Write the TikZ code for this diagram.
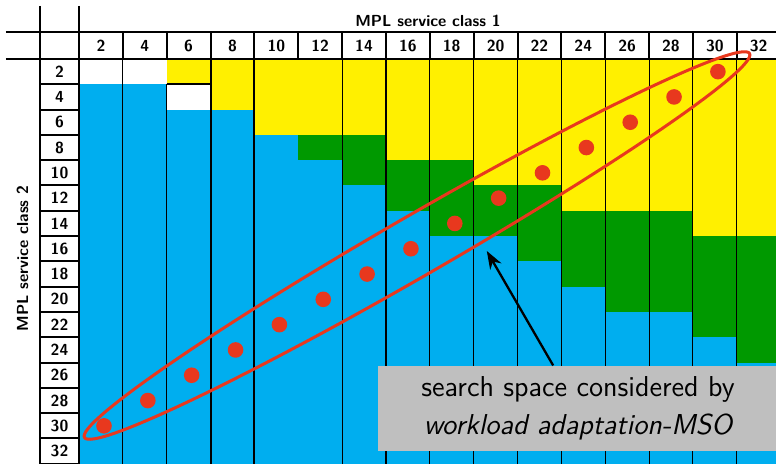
\documentclass[tikz,border=0pt]{standalone}
\usepackage{fontspec}
\usetikzlibrary{arrows.meta}
\definecolor{tabyellow}{RGB}{255,240,0}
\definecolor{tabgreen}{RGB}{0,153,0}
\definecolor{tabblue}{RGB}{0,174,239}
\definecolor{msored}{RGB}{232,56,30}
\definecolor{notegray}{RGB}{191,191,191}

\begin{document}
\begin{tikzpicture}[x=21.925pt, y=-12.65pt,
    heavy/.style={line width=1pt},
    light/.style={line width=0.55pt},
    num/.style={font=\sffamily\bfseries\fontsize{8}{9}\selectfont},
    dot/.style={fill=msored},
    note/.style={fill=notegray, minimum width=200pt, minimum height=42.5pt, inner sep=0pt,
      align=center, font=\sffamily\fontsize{14.4}{19}\selectfont},
    pointer/.style={line width=1.15pt, -{Stealth[length=9pt,width=6.5pt]}}]
    \useasboundingbox (-1.8016,-2.332) rectangle (15.895,16.008);
    \clip (-1.8016,-2.332) rectangle (15.895,16.008);
    % cells: column / end of yellow / start of green / end of green
    \foreach \cl/\ya/\yb/\yc in {1/0/1/1, 2/0/1/1, 3/1/2/2, 4/2/2/2, 5/3/3/3, 6/3/3/4, 7/3/3/5,
        8/4/4/6, 9/4/4/7, 10/5/5/7, 11/5/5/8, 12/6/6/9, 13/6/6/10, 14/6/6/10, 15/7/7/11, 16/7/7/12}{
        \fill[tabyellow] (\cl-1,0) rectangle (\cl,\ya);
        \fill[tabgreen] (\cl-1,\yb) rectangle (\cl,\yc);
        \fill[tabblue] (\cl-1,\yc) rectangle (\cl,16.1);
    }
    % column lines
    \foreach \k in {1,6,8,9,10,11,12,13,14,15}
        \draw[light] (\k,0) -- (\k,16.1);
    \foreach \k in {3,4,7}
        \draw[heavy] (\k,0) -- (\k,16.1);
    \draw[light] (2,1) -- (2,16.1);
    \draw[heavy] (2,1) -- (3,1);
    % header grid
    \draw[heavy] (-1.665,-1.067) -- (16,-1.067);
    \draw[heavy] (-1.665,0) -- (16,0);
    \draw[heavy] (-0.889,-2.095) -- (-0.889,16.1);
    \draw[heavy] (0,-2.095) -- (0,16.1);
    \foreach \k in {1,...,15}
        \draw[heavy] (\k,-1.067) -- (\k,0);
    \foreach \r in {1,...,16}
        \draw[heavy] (-0.889,\r) -- (0,\r);
    % labels
    \foreach \cl in {1,...,16}{
        \pgfmathtruncatemacro\lbl{2*\cl}
        \node[num] (col\cl) at (\cl-0.5,-0.533) {\lbl};
        \node[num] (row\cl) at (-0.444,\cl-0.5) {\lbl};
    }
    \node[num, anchor=base] (xtitle) at (7.96,-1.304) {MPL service class 1};
    \node[num, anchor=base, rotate=90] (ytitle) at (-1.163,7.885) {MPL service class 2};
    % search space
    \foreach \i in {1,...,15}
        \fill[dot] (\i-0.43,15.5-\i) circle (3.9pt);
    \draw[msored, line width=1.5pt] (7.708,7.372) circle [x radius=192pt, y radius=15pt, rotate=30];
    \node[note] (note) at (11.38,13.81) {search space considered by\\\itshape workload adaptation-MSO};
    \coordinate (tip) at (9.30,7.59);
    \draw[pointer] (note) -- (tip);
\end{tikzpicture}
\end{document}
